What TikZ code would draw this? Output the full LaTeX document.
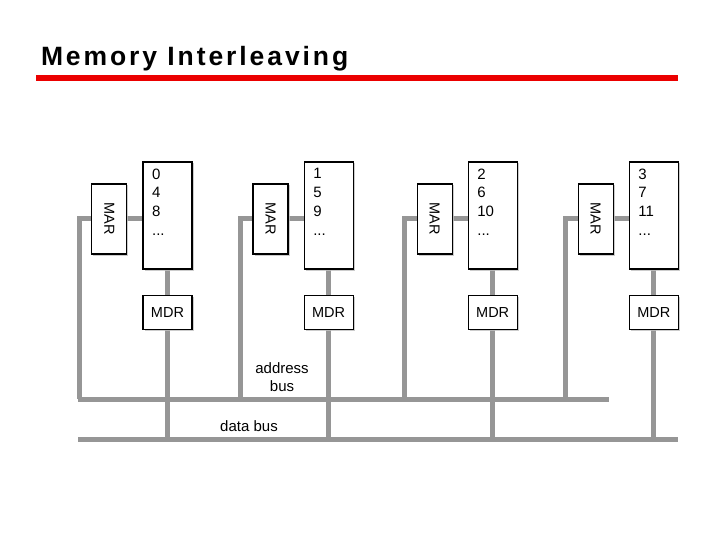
\documentclass[tikz,border=0pt]{standalone}
\usepackage{fontspec}
\setmainfont{Liberation Sans}
\newfontfamily\titlefont[LetterSpace=11]{Liberation Sans}
\usetikzlibrary{positioning, shadows, backgrounds}
\definecolor{busgray}{RGB}{150,150,150}
\definecolor{titlered}{RGB}{235,0,0}

\begin{document}
\begin{tikzpicture}[x=1pt, y=-1pt, box/.style={draw, fill=white, line width=1.1pt, inner sep=0pt,
    drop shadow={shadow xshift=1.5pt, shadow yshift=-1.5pt, fill=black!25, opacity=.8},
    font=\fontsize{14.5}{17}\selectfont}, membox/.style={box, minimum width=49pt, minimum height=107pt},
    marbox/.style={box, minimum width=35pt, minimum height=70pt},
    mdrbox/.style={box, minimum width=49pt, minimum height=34pt},
    memtext/.style={anchor=north west, align=left, inner sep=0pt, xshift=9.5pt, yshift=-7pt,
    font=\fontsize{15}{18.7}\selectfont}, bus/.style={busgray, line width=5pt}]

  \useasboundingbox (0,0) rectangle (720,540);

  \node[anchor=base west, font=\titlefont\bfseries\fontsize{26.5}{30}\selectfont] (title) at (37.5,66)
    {Memory Interleaving};
  \fill[titlered] (36,75.5) rectangle (678,81);

  % memory banks
  \node[membox, label={[memtext]north west:0\\4\\8\\...}] (mem1) at (167.5,215.5) {};
  \node[membox, right=111pt of mem1, label={[memtext]north west:1\\5\\9\\...}] (mem2) {};
  \node[membox, right=114pt of mem2, label={[memtext]north west:2\\6\\10\\...}] (mem3) {};
  \node[membox, right=111pt of mem3, label={[memtext]north west:3\\7\\11\\...}] (mem4) {};

  \node[marbox, left=15pt of mem1, yshift=-3.5pt] (mar1) {\rotatebox{-90}{MAR}};
  \node[marbox, left=15pt of mem2, yshift=-3.5pt] (mar2) {\rotatebox{-90}{MAR}};
  \node[marbox, left=15pt of mem3, yshift=-3.5pt] (mar3) {\rotatebox{-90}{MAR}};
  \node[marbox, left=15pt of mem4, yshift=-3.5pt] (mar4) {\rotatebox{-90}{MAR}};

  \node[mdrbox, below=25pt of mem1] (mdr1) {MDR};
  \node[mdrbox, below=25pt of mem2] (mdr2) {MDR};
  \node[mdrbox, below=25pt of mem3] (mdr3) {MDR};
  \node[mdrbox, below=25pt of mem4] (mdr4) {MDR};

  % buses
  \coordinate (abusL) at (78,399);
  \coordinate (abusR) at (609,399);
  \coordinate (dbusL) at (78,439);
  \coordinate (dbusR) at (678,439);
  \coordinate[left=12pt of mar1.west] (tap1);
  \coordinate[left=12pt of mar2.west] (tap2);
  \coordinate[left=12pt of mar3.west] (tap3);
  \coordinate[left=12pt of mar4.west] (tap4);

  \node[align=center, font=\fontsize{15}{18}\selectfont] (alabel) at (282,377) {address\\bus};
  \node[font=\fontsize{15}{17}\selectfont] (dlabel) at (249,426) {data bus};

  \begin{scope}[on background layer]
    \draw[bus] (abusL) -- (abusR);
    \draw[bus] (dbusL) -- (dbusR);
    \draw[bus] (mem1.west |- mar1) -- (tap1) -- (tap1 |- abusL);
    \draw[bus] (mem2.west |- mar2) -- (tap2) -- (tap2 |- abusL);
    \draw[bus] (mem3.west |- mar3) -- (tap3) -- (tap3 |- abusL);
    \draw[bus] (mem4.west |- mar4) -- (tap4) -- (tap4 |- abusL);
    \draw[bus] (mem1) -- (mdr1) -- (mdr1 |- dbusL);
    \draw[bus] (mem2) -- (mdr2) -- (mdr2 |- dbusL);
    \draw[bus] (mem3) -- (mdr3) -- (mdr3 |- dbusL);
    \draw[bus] (mem4) -- (mdr4) -- (mdr4 |- dbusL);
  \end{scope}

\end{tikzpicture}
\end{document}
